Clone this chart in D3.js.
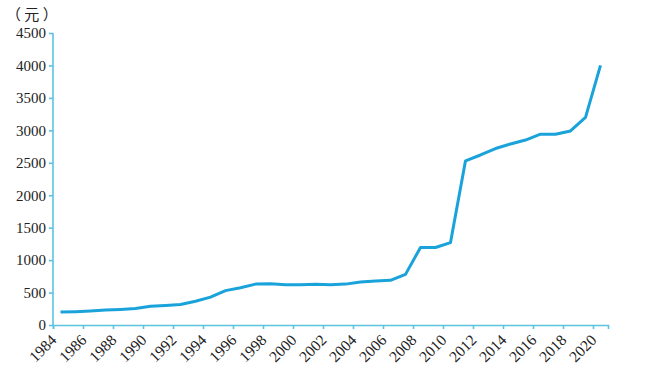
<!DOCTYPE html>
<html><head><meta charset="utf-8">
<script src="https://cdn.jsdelivr.net/npm/d3@7"></script>
<style>body{margin:0;background:#fff}svg{display:block}</style>
</head><body><svg id="c" width="652" height="371"></svg>
<script>
const years = d3.range(1984, 2021);
const values = [200,205,215,230,240,255,290,300,315,365,430,530,575,630,635,622,620,627,621,630,662,678,688,780,1195,1195,1270,2530,2620,2720,2790,2850,2940,2940,2990,3200,4000];
const yTicks = [0,500,1000,1500,2000,2500,3000,3500,4000,4500];
const xTicks = d3.range(1984, 2021, 2);
const unitLabel = "（ 元 ）";

const svg = d3.select("#c");
const axisColor = "#5bc3e0", lineColor = "#1aa3da", textColor = "#222";
const x = d3.scaleLinear().domain([1984, 2021]).range([53, 608]);
const y = d3.scaleLinear().domain([0, 4500]).range([325, 33]);

const yAxis = svg.append("g").attr("transform","translate(53,0)")
  .call(d3.axisLeft(y).tickValues(yTicks).tickSize(4).tickPadding(3).tickFormat(d3.format("d")));
const xAxis = svg.append("g").attr("transform","translate(0,325)")
  .call(d3.axisBottom(x).tickValues(xTicks).tickSize(4).tickFormat(d3.format("d")));
[yAxis, xAxis].forEach(g => {
  g.selectAll("path,line").attr("stroke", axisColor).attr("stroke-width", 1.6);
  g.selectAll("text").attr("fill", textColor).style("font-family","'Liberation Serif','DejaVu Serif',serif").style("font-size","15px");
});
xAxis.selectAll("text").style("font-size","15.5px");
yAxis.select(".domain").attr("d", `M0,${y(4500)}V${y(0)}`);
xAxis.selectAll("text").attr("text-anchor","end").attr("dy",null).attr("y",0)
  .attr("transform","translate(4,16) rotate(-45)");

svg.append("path").datum(values)
  .attr("fill","none").attr("stroke", lineColor).attr("stroke-width", 3).attr("stroke-linejoin","round")
  .attr("d", d3.line().x((d,i)=>x(years[i]+0.5)).y(d=>y(d)));

svg.append("text").attr("x", 6).attr("y", 20).text(unitLabel)
  .attr("fill", textColor).style("font-family","'Noto Sans CJK SC',serif").style("font-size","15px");
</script></body></html>
